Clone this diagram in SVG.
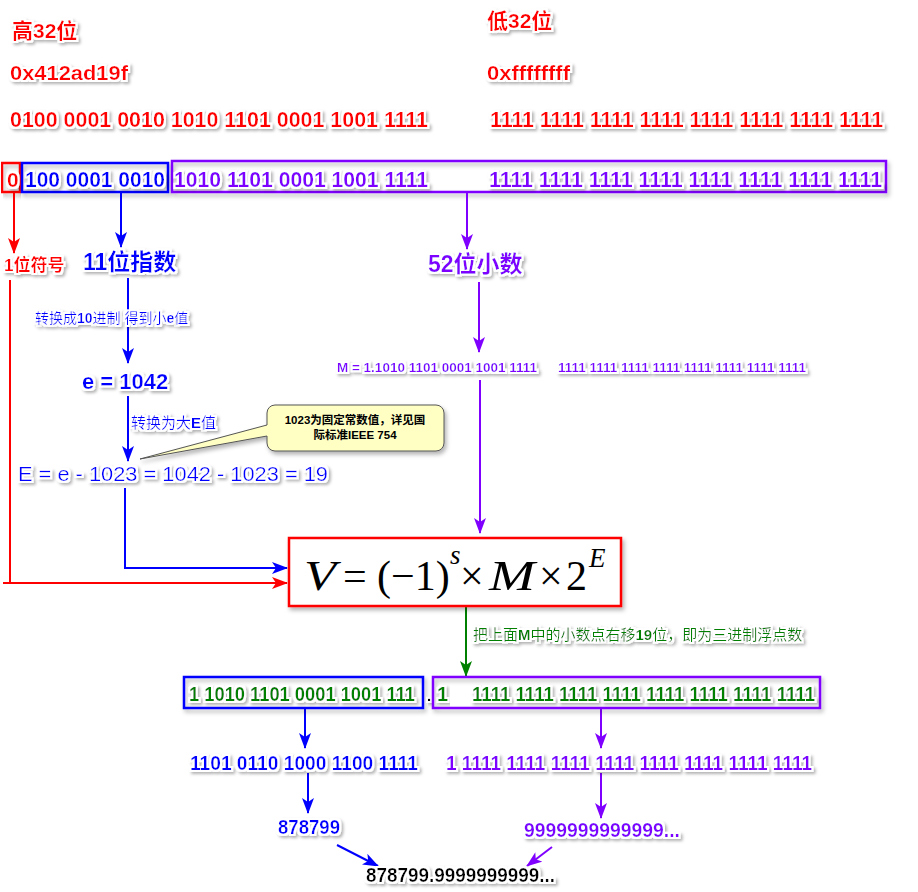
<svg xmlns="http://www.w3.org/2000/svg" width="918" height="892" viewBox="0 0 918 892">
<defs>
<filter id="halo" x="-10%" y="-40%" width="120%" height="180%">
<feMorphology in="SourceAlpha" operator="dilate" radius="2" result="d"/>
<feGaussianBlur in="d" stdDeviation="1.5" result="db"/>
<feOffset in="db" dx="2" dy="2" result="sh"/>
<feFlood flood-color="#000" flood-opacity="0.3"/>
<feComposite in2="sh" operator="in" result="shadow"/>
<feFlood flood-color="#fff"/>
<feComposite in2="d" operator="in" result="white"/>
<feMerge><feMergeNode in="shadow"/><feMergeNode in="white"/><feMergeNode in="SourceGraphic"/></feMerge>
</filter>
<filter id="boxsh" x="-5%" y="-20%" width="110%" height="150%">
<feGaussianBlur in="SourceAlpha" stdDeviation="2"/>
<feOffset dx="2" dy="3" result="o"/>
<feFlood flood-color="#000" flood-opacity="0.3"/>
<feComposite in2="o" operator="in" result="s"/>
<feMerge><feMergeNode in="s"/><feMergeNode in="SourceGraphic"/></feMerge>
</filter>
<marker id="aR" viewBox="0 0 16 12" refX="15" refY="6" markerWidth="16" markerHeight="12" orient="auto" markerUnits="userSpaceOnUse"><path d="M0,0 L16,6 L0,12 L4,6 z" fill="#ff0000"/></marker>
<marker id="aB" viewBox="0 0 16 12" refX="15" refY="6" markerWidth="16" markerHeight="12" orient="auto" markerUnits="userSpaceOnUse"><path d="M0,0 L16,6 L0,12 L4,6 z" fill="#0000ff"/></marker>
<marker id="aP" viewBox="0 0 16 12" refX="15" refY="6" markerWidth="16" markerHeight="12" orient="auto" markerUnits="userSpaceOnUse"><path d="M0,0 L16,6 L0,12 L4,6 z" fill="#8000ff"/></marker>
<marker id="aG" viewBox="0 0 16 12" refX="15" refY="6" markerWidth="16" markerHeight="12" orient="auto" markerUnits="userSpaceOnUse"><path d="M0,0 L16,6 L0,12 L4,6 z" fill="#008000"/></marker>
</defs>
<style>
text{font-family:"Liberation Sans","Noto Sans CJK SC",sans-serif;filter:url(#halo)}
.b{font-weight:bold}
.r{fill:#ff0000}.bl{fill:#0000ff}.p{fill:#8000ff}.g{fill:#008000}.k{fill:#000}
.box{fill:none;stroke-width:2.5;filter:url(#boxsh)}
.ln{fill:none;stroke-width:2}
.f{font-family:"Liberation Serif","DejaVu Serif",serif;font-size:42px;filter:none}
.fi{font-style:italic}
</style>
<rect width="918" height="892" fill="#fff"/>

<g id="header-high">
<text x="12" y="38" class="r b" font-size="21">高32位</text>
<text x="10" y="80" class="r b" font-size="21" textLength="118" lengthAdjust="spacingAndGlyphs">0x412ad19f</text>
<text x="10" y="127" class="r b" font-size="22" textLength="418" lengthAdjust="spacingAndGlyphs">0100 0001 0010 1010 1101 0001 1001 1111</text>
</g>
<g id="header-low">
<text x="487" y="28" class="r b" font-size="21">低32位</text>
<text x="487" y="80" class="r b" font-size="21" textLength="83" lengthAdjust="spacingAndGlyphs">0xffffffff</text>
<text x="490" y="127" class="r b" font-size="22" textLength="393" lengthAdjust="spacingAndGlyphs">1111 1111 1111 1111 1111 1111 1111 1111</text>
</g>

<g id="sign-bits">
<rect x="2" y="163" width="18" height="29" class="box" stroke="#ff0000"/>
<text x="7" y="187" class="r b" font-size="21">0</text>
</g>
<g id="exp-bits">
<rect x="22" y="163" width="146" height="29" class="box" stroke="#0000ff"/>
<text x="25" y="187" class="bl b" font-size="22" textLength="140" lengthAdjust="spacingAndGlyphs">100 0001 0010</text>
</g>
<g id="frac-bits">
<rect x="172" y="161" width="714" height="31" class="box" stroke="#8000ff"/>
<text x="174" y="187" class="p b" font-size="22" textLength="254" lengthAdjust="spacingAndGlyphs">1010 1101 0001 1001 1111</text>
<text x="489" y="187" class="p b" font-size="22" textLength="393" lengthAdjust="spacingAndGlyphs">1111 1111 1111 1111 1111 1111 1111 1111</text>
</g>

<g id="connectors">
<line x1="14" y1="193" x2="14" y2="253" class="ln" stroke="#ff0000" marker-end="url(#aR)"/>
<line x1="121" y1="193" x2="121" y2="247" class="ln" stroke="#0000ff" marker-end="url(#aB)"/>
<line x1="467" y1="193" x2="467" y2="249" class="ln" stroke="#8000ff" marker-end="url(#aP)"/>
<line x1="10" y1="280" x2="10" y2="583" class="ln" stroke="#ff0000"/>
<line x1="3" y1="583" x2="287" y2="583" class="ln" stroke="#ff0000" marker-end="url(#aR)"/>
<line x1="128" y1="278" x2="128" y2="363" class="ln" stroke="#0000ff" marker-end="url(#aB)"/>
<line x1="128" y1="396" x2="128" y2="461" class="ln" stroke="#0000ff" marker-end="url(#aB)"/>
<polyline points="125,488 125,568 287,568" class="ln" stroke="#0000ff" marker-end="url(#aB)"/>
<line x1="479" y1="282" x2="479" y2="352" class="ln" stroke="#8000ff" marker-end="url(#aP)"/>
<line x1="480" y1="380" x2="480" y2="533" class="ln" stroke="#8000ff" marker-end="url(#aP)"/>
<line x1="466" y1="607" x2="466" y2="676" class="ln" stroke="#008000" marker-end="url(#aG)"/>
<line x1="305" y1="709" x2="305" y2="748" class="ln" stroke="#0000ff" marker-end="url(#aB)"/>
<line x1="601" y1="709" x2="601" y2="748" class="ln" stroke="#8000ff" marker-end="url(#aP)"/>
<line x1="308" y1="773" x2="308" y2="813" class="ln" stroke="#0000ff" marker-end="url(#aB)"/>
<line x1="601" y1="773" x2="601" y2="818" class="ln" stroke="#8000ff" marker-end="url(#aP)"/>
<line x1="337" y1="845" x2="378" y2="866" class="ln" stroke="#0000ff" marker-end="url(#aB)"/>
<line x1="552" y1="847" x2="527" y2="866" class="ln" stroke="#8000ff" marker-end="url(#aP)"/>
</g>

<g id="sign-label"><text x="4" y="271" class="r b" font-size="17">1位符号</text></g>
<g id="exp-label"><text x="83" y="270" class="bl b" font-size="23">11位指数</text></g>
<g id="frac-label"><text x="428" y="272" class="p b" font-size="23">52位小数</text></g>

<g id="to-e-label"><text x="35" y="323" class="bl" font-size="14">转换成<tspan class="b">10</tspan>进制 得到小<tspan class="b">e</tspan>值</text></g>
<g id="e-value"><text x="82" y="389" class="bl b" font-size="22">e = 1042</text></g>
<g id="to-E-label"><text x="131" y="428" class="bl" font-size="15">转换为大<tspan class="b">E</tspan>值</text></g>
<g id="E-value"><text x="18" y="481" class="bl" font-size="21" textLength="310" lengthAdjust="spacingAndGlyphs">E = e - 1023  = 1042 - 1023 = 19</text></g>

<g id="callout">
<path d="M275,405 H436 a8,8 0 0 1 8,8 V443 a8,8 0 0 1 -8,8 H275 a8,8 0 0 1 -8,-8 V436 L140,459 L267,425 V413 a8,8 0 0 1 8,-8 z" fill="#ffffc4" stroke="#555" stroke-width="1" filter="url(#boxsh)"/>
<text x="355" y="424" class="k b" font-size="11.5" text-anchor="middle" style="filter:none">1023为固定常数值，详见国</text>
<text x="355" y="439" class="k b" font-size="11.5" text-anchor="middle" style="filter:none">际标准IEEE 754</text>
</g>

<g id="M-value">
<text x="337" y="372" class="p b" font-size="13" textLength="200" lengthAdjust="spacingAndGlyphs">M = 1.1010 1101 0001 1001 1111</text>
<text x="558" y="372" class="p b" font-size="13" textLength="248" lengthAdjust="spacingAndGlyphs">1111 1111 1111 1111 1111 1111 1111 1111</text>
</g>

<g id="formula">
<rect x="289" y="538" width="332" height="68" fill="#fff" stroke="#ff0000" stroke-width="2.5" filter="url(#boxsh)"/>
<text x="304" y="590" class="f fi" textLength="32" lengthAdjust="spacingAndGlyphs">V</text>
<text x="343" y="590" class="f">=</text>
<text x="377" y="590" class="f">(−1)</text>
<text x="450" y="564" class="f fi" style="font-size:27px">s</text>
<text x="460" y="590" class="f">×</text>
<text x="489" y="590" class="f fi" textLength="46" lengthAdjust="spacingAndGlyphs">M</text>
<text x="539" y="590" class="f">×</text>
<text x="566" y="590" class="f">2</text>
<text x="589" y="567" class="f fi" style="font-size:27px">E</text>
</g>

<g id="shift-label"><text x="473" y="640" class="g" font-size="15">把上面<tspan class="b">M</tspan>中的小数点右移<tspan class="b">19</tspan>位，即为三进制浮点数</text></g>

<g id="int-part">
<rect x="184" y="677" width="239" height="31" class="box" stroke="#0000ff"/>
<text x="189" y="701" class="g b" font-size="20" textLength="226" lengthAdjust="spacingAndGlyphs">1 1010 1101 0001 1001 111</text>
</g>
<g id="point"><text x="427" y="701" class="k b" font-size="15">.</text></g>
<g id="frac-part">
<rect x="433" y="677" width="387" height="31" class="box" stroke="#8000ff"/>
<text x="437" y="701" class="g b" font-size="20">1</text>
<text x="472" y="701" class="g b" font-size="20" textLength="343" lengthAdjust="spacingAndGlyphs">1111 1111 1111 1111 1111 1111 1111 1111</text>
</g>

<g id="int-bin"><text x="190" y="770" class="bl b" font-size="20" textLength="228" lengthAdjust="spacingAndGlyphs">1101  0110 1000 1100 1111</text></g>
<g id="frac-bin"><text x="446" y="770" class="p b" font-size="20" textLength="366" lengthAdjust="spacingAndGlyphs">1  1111 1111 1111 1111 1111 1111 1111 1111</text></g>
<g id="int-dec"><text x="278" y="834" class="bl b" font-size="20" textLength="62" lengthAdjust="spacingAndGlyphs">878799</text></g>
<g id="frac-dec"><text x="524" y="837" class="p b" font-size="20" textLength="156" lengthAdjust="spacingAndGlyphs">9999999999999...</text></g>
<g id="result"><text x="366" y="882" class="k b" font-size="20" textLength="189" lengthAdjust="spacingAndGlyphs">878799.9999999999...</text></g>
</svg>
